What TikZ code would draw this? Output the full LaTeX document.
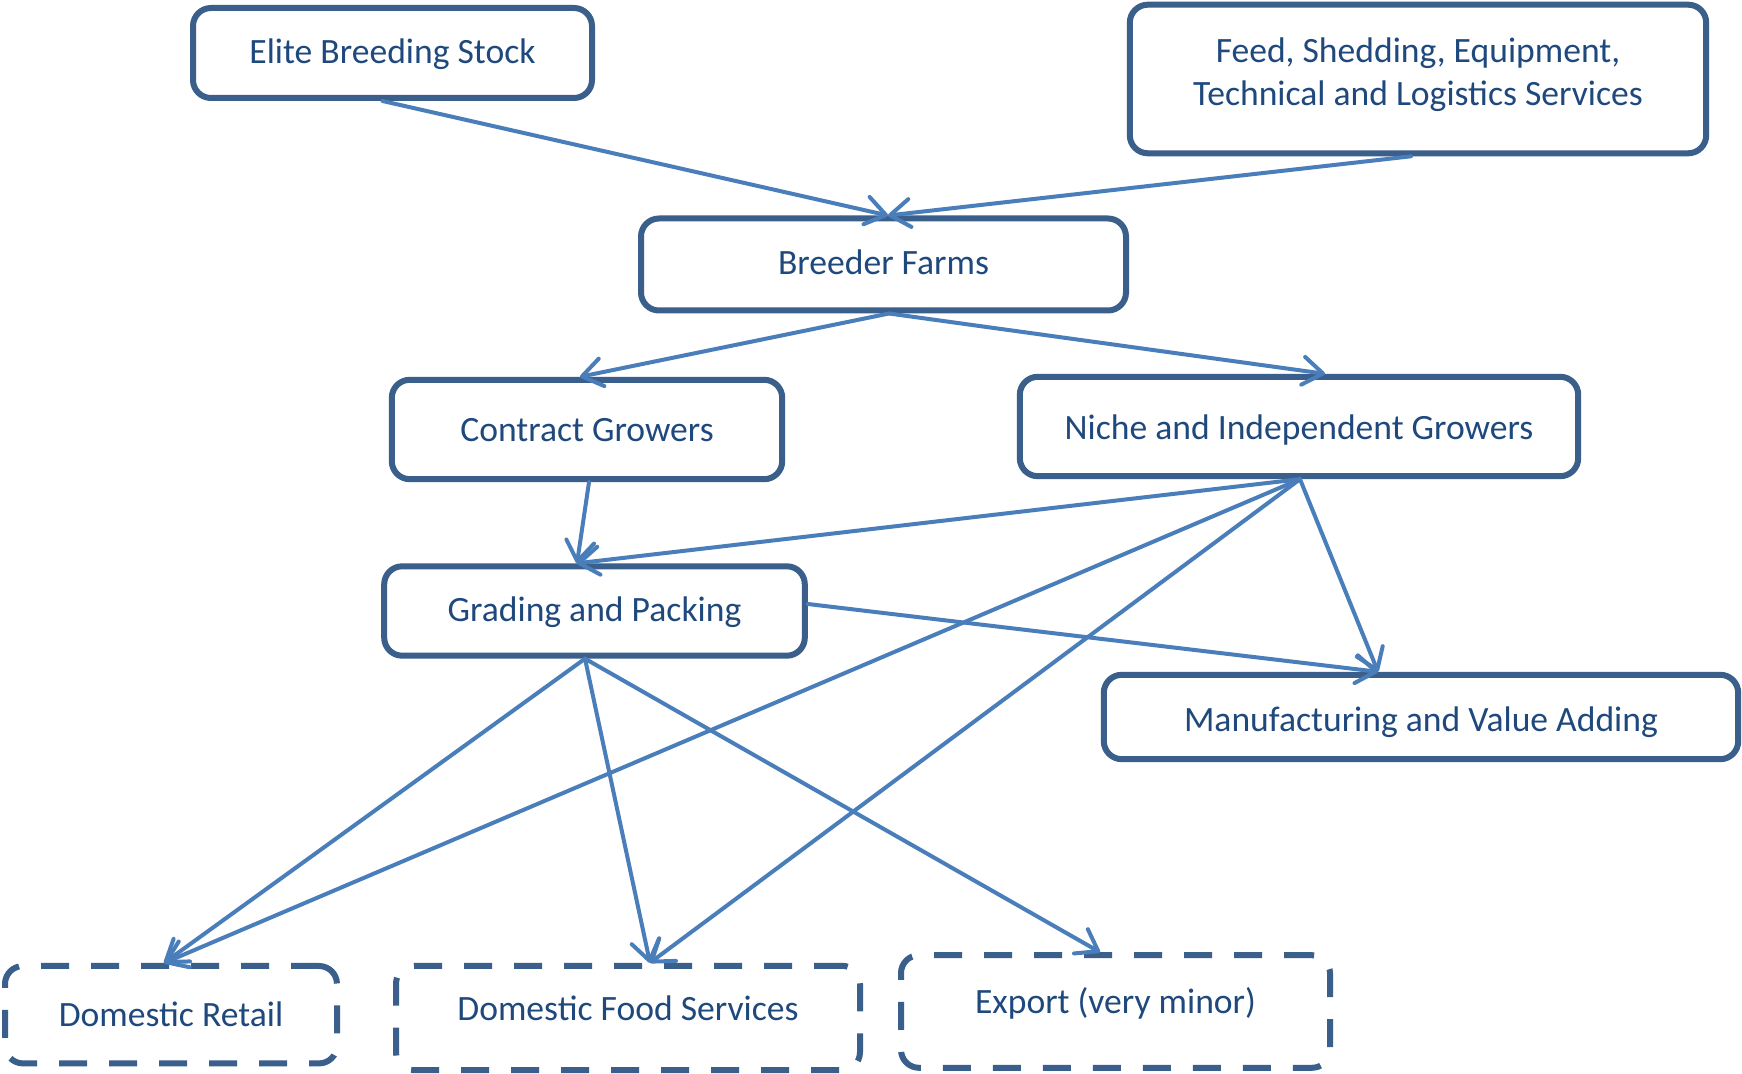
\documentclass[tikz,border=0pt]{standalone}
\usepackage{fontspec}
\setmainfont{Carlito}
\usetikzlibrary{arrows.meta,calc}
\definecolor{boxblue}{HTML}{3A5F8B}
\definecolor{arrowblue}{HTML}{4A7EBB}
\definecolor{textblue}{HTML}{1F497D}
\newcommand{\nodetext}[2]{\raisebox{#1}[0pt][0pt]{#2}}
\begin{document}
\begin{tikzpicture}[x=0.5pt,y=-0.5pt,
  box/.style={draw=boxblue, line width=3pt, rounded corners=9pt, text=textblue,
    font=\fontsize{17.8}{21.7}\selectfont, align=center, inner sep=0pt},
  dbox/.style={box, dash pattern=on 14pt off 11pt},
  arr/.style={draw=arrowblue, line width=2pt, line cap=round,
    -{Straight Barb[length=10pt,width=14pt,round]}}]
\fill[white] (0,0) rectangle (1742,1074);
\useasboundingbox (0,0) rectangle (1742,1074);

\node[box, minimum width=199.5pt, minimum height=45pt] (elite) at (392.5,53) {\nodetext{-5.35pt}{Elite Breeding Stock}};
\node[box, minimum width=288.2pt, minimum height=74.3pt] (feed) at (1418,79) {\nodetext{-2.6pt}{\begin{tabular}{@{}c@{}}Feed, Shedding, Equipment,\\Technical and Logistics Services\end{tabular}}};
\node[box, minimum width=242.5pt, minimum height=46pt] (breeder) at (883.5,264.5) {\nodetext{-4.8pt}{Breeder Farms}};
\node[box, minimum width=195.2pt, minimum height=49.7pt] (contract) at (587,429.5) {\nodetext{-5.9pt}{Contract Growers}};
\node[box, minimum width=279.2pt, minimum height=49.7pt] (niche) at (1299,426.5) {\nodetext{-6.7pt}{Niche and Independent Growers}};
\node[box, minimum width=210.3pt, minimum height=44.7pt] (grading) at (594.5,611) {\nodetext{-5.1pt}{Grading and Packing}};
\node[box, minimum width=317.2pt, minimum height=42.2pt] (manuf) at (1421,717) {\nodetext{-7.3pt}{Manufacturing and Value Adding}};
\node[dbox, minimum width=166pt, minimum height=48.7pt] (retail) at (171,1014.7) {\nodetext{-5.9pt}{Domestic Retail}};
\node[dbox, minimum width=232pt, minimum height=52.2pt] (food) at (628,1018) {\nodetext{-1.2pt}{Domestic Food Services}};
\node[dbox, minimum width=214.5pt, minimum height=56.3pt] (export) at (1115.5,1011.5) {\nodetext{-0.9pt}{Export (very minor)}};

\draw[arr] ([xshift=-5pt]elite.south) -- ([xshift=2.25pt]breeder.north);
\draw[arr] ([xshift=-3.5pt]feed.south) -- ([xshift=2.25pt]breeder.north);
\draw[arr] ([xshift=2.75pt]breeder.south) -- ([xshift=-3.5pt]contract.north);
\draw[arr] ([xshift=2.75pt]breeder.south) -- ([xshift=13pt]niche.north);
\draw[arr] ([xshift=1pt]contract.south) -- ([xshift=-8.75pt]grading.north);
\draw[arr] ([xshift=0.5pt]niche.south) -- ([xshift=-8.75pt]grading.north);
\draw[arr] ([xshift=0.5pt]niche.south) -- ([xshift=-21.5pt]manuf.north);
\draw[arr] ([yshift=3.5pt]grading.east) -- ([xshift=-21.5pt]manuf.north);
\draw[arr] ([xshift=-4.75pt]grading.south) -- ([xshift=-3.5pt]retail.north);
\draw[arr] ([xshift=0.5pt]niche.south) -- ([xshift=-3.5pt]retail.north);
\draw[arr] ([xshift=-4.75pt]grading.south) -- ([xshift=11pt]food.north);
\draw[arr] ([xshift=0.5pt]niche.south) -- ([xshift=11pt]food.north);
\draw[arr] ([xshift=-4.75pt]grading.south) -- ([xshift=-7.75pt]export.north);
\end{tikzpicture}
\end{document}
